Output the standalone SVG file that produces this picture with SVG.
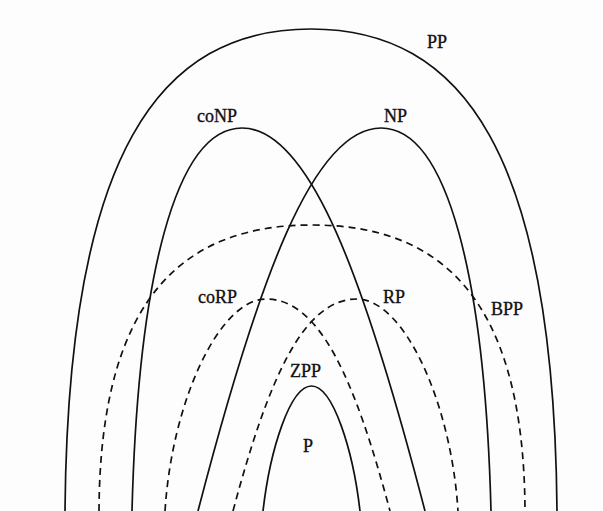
<svg xmlns="http://www.w3.org/2000/svg" width="603" height="511" viewBox="0 0 603 511">
  <style>
    .solid { fill: none; stroke: #111; stroke-width: 1.7; }
    .dash { fill: none; stroke: #111; stroke-width: 1.7; stroke-dasharray: 7 5; }
    .lbl { font-family: "Liberation Serif", "Times New Roman", serif; font-size: 18px; fill: #111; stroke: #111; stroke-width: 0.35; }
  </style>
  <rect x="0" y="0" width="603" height="511" fill="#fdfdfd"/>
  <g id="PP">
    <path class="solid" d="M65,511 C68,152 160,29 311,29 C462,29 554,152 557,511"/>
    <text class="lbl" x="427" y="48">PP</text>
  </g>
  <g id="coNP">
    <path class="solid" d="M132,511 C138,280 175,128 242,128 C310,128 365,280 425,511"/>
    <text class="lbl" x="197" y="122">coNP</text>
  </g>
  <g id="NP">
    <path class="solid" d="M198,511 C258,280 313,128 381,128 C448,128 485,280 491,511"/>
    <text class="lbl" x="384" y="122">NP</text>
  </g>
  <g id="BPP">
    <path class="dash" d="M99,511 C100,290 190,225 312,225 C434,225 524,290 525,511"/>
    <text class="lbl" x="491" y="315">BPP</text>
  </g>
  <g id="coRP">
    <path class="dash" d="M165,511 C172,400 220,299 266,299 C320,299 355,380 390,511"/>
    <text class="lbl" x="198" y="303">coRP</text>
  </g>
  <g id="RP">
    <path class="dash" d="M233,511 C268,380 303,299 357,299 C403,299 451,400 458,511"/>
    <text class="lbl" x="383" y="303">RP</text>
  </g>
  <g id="ZPP">
    <text class="lbl" x="290" y="377">ZPP</text>
  </g>
  <g id="P">
    <path class="solid" d="M263,511 C270,450 290,386 311.5,386 C333,386 353,450 360,511"/>
    <text class="lbl" x="303" y="452">P</text>
  </g>
  <g id="connectors"></g>
</svg>
